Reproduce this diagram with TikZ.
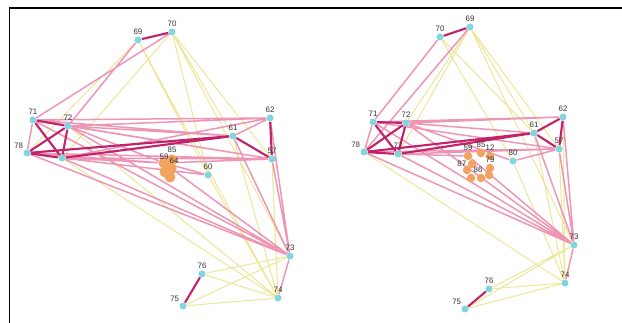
\documentclass[tikz,border=0pt]{standalone}
\usepackage{fontspec}
\setsansfont{Liberation Sans}
\pgfdeclarelayer{bg}
\pgfsetlayers{bg,main}

\definecolor{strongedge}{HTML}{C2226A}
\definecolor{midedge}{HTML}{EE95B5}
\definecolor{weakedge}{HTML}{EDE79C}
\definecolor{vertfill}{HTML}{7FD6DF}
\definecolor{groupfill}{HTML}{F2A35E}

\tikzset{
  vert/.style={circle, fill=vertfill, minimum size=0.14cm, inner sep=0pt},
  grp/.style={circle, fill=groupfill, minimum size=0.17cm, inner sep=0pt},
  blob/.style={circle, fill=groupfill, minimum size=0.22cm, inner sep=0pt},
  tag/.style={font=\fontsize{4.5}{4.5}\selectfont\sffamily, text=black!80, inner sep=0.5pt},
  strong/.style={draw=strongedge, line width=1.2pt},
  medium/.style={draw=midedge, line width=0.85pt},
  weak/.style={draw=weakedge, line width=0.6pt},
}

\begin{document}
\begin{tikzpicture}[x=0.02cm, y=-0.02cm]
  \useasboundingbox (0,0) rectangle (622,323);
  \draw[line width=0.04cm] (9.5,323) -- (9.5,8.5) -- (622,8.5);

  % left graph
  \node (l69) at (138,40) [vert, label={[tag]above:69}] {};
  \node (l70) at (172,32) [vert, label={[tag]above:70}] {};
  \node (l71) at (33,120) [vert, label={[tag]above:71}] {};
  \node (l72) at (68,126) [vert, label={[tag]above:72}] {};
  \node (l78) at (27,153) [vert, label={[tag]above left:78}] {};
  \node (l77) at (62,158) [vert] {};
  \node (l61) at (233,136) [vert, label={[tag]above:61}] {};
  \node (l62) at (270,118) [vert, label={[tag]above:62}] {};
  \node (l57) at (272,159) [vert, label={[tag]above:57}] {};
  \node (l60) at (208,175) [vert, label={[tag]above:60}] {};
  \node (l73) at (290,256) [vert, label={[tag]above:73}] {};
  \node (l76) at (202,274) [vert, label={[tag]above:76}] {};
  \node (l75) at (183,306) [vert, label={[tag]above left:75}] {};
  \node (l74) at (278,298) [vert, label={[tag]above:74}] {};
  \node (l59) at (164,163) [blob] {};
  \node (l85) at (172,160) [blob, label={[tag]above:85}] {};
  \node (l64) at (171,169) [blob] {};
  \node (l84) at (165,172) [blob] {};
  \node (l86) at (170,177) [blob] {};
  \node (l59t) at (164,157) [tag] {59};
  \node (l64t) at (174,161) [tag] {64};

  \begin{pgfonlayer}{bg}
  \draw[weak] (l70) -- (l77) (l70) -- (l61) (l70) -- (l57) (l70) -- (l73)
    (l69) -- (l74) (l69) -- (l60) (l72) -- (l74) (l77) -- (l74) (l60) -- (l74)
    (l61) -- (l74) (l62) -- (l74) (l57) -- (l74) (l73) -- (l75) (l74) -- (l75)
    (l74) -- (l76) (l73) -- (l76) (l69) -- (l78) (l70) -- (l60);
  \draw[medium] (l69) -- (l72) (l70) -- (l71) (l71) -- (l62) (l72) -- (l62)
    (l72) -- (l61) (l71) -- (l61) (l71) -- (l57) (l72) -- (l57) (l77) -- (l57)
    (l78) -- (l57) (l71) -- (l78) (l77) -- (l62) (l78) -- (l59) (l77) -- (l59)
    (l72) -- (l59) (l59) -- (l57) (l59) -- (l60) (l77) -- (l60) (l71) -- (l73)
    (l72) -- (l73) (l78) -- (l73) (l77) -- (l73) (l59) -- (l73) (l61) -- (l73)
    (l62) -- (l73) (l57) -- (l73) (l73) -- (l74) (l61) -- (l62);
  \draw[strong] (l69) -- (l70) (l71) -- (l77) (l72) -- (l78) (l72) -- (l77)
    (l78) -- (l61) (l61) -- (l57) (l62) -- (l57) (l75) -- (l76) (l78) -- (l77)
    (l77) -- (l61) (l71) -- (l72);
  \end{pgfonlayer}

  % right graph
  \node (r70) at (440,37) [vert, label={[tag]above:70}] {};
  \node (r69) at (470,27) [vert, label={[tag]above:69}] {};
  \node (r71) at (373,122) [vert, label={[tag]above:71}] {};
  \node (r72) at (406,123) [vert, label={[tag]above:72}] {};
  \node (r78) at (364,152) [vert, label={[tag]above left:78}] {};
  \node (r77) at (398,154) [vert, label={[tag]above:77}] {};
  \node (r61) at (534,133) [vert, label={[tag]above:61}] {};
  \node (r62) at (563,117) [vert, label={[tag]above:62}] {};
  \node (r57) at (559,149) [vert, label={[tag]above:57}] {};
  \node (r80) at (513,161) [vert, label={[tag]above:80}] {};
  \node (r73) at (574,245) [vert, label={[tag]above:73}] {};
  \node (r74) at (565,283) [vert, label={[tag]above:74}] {};
  \node (r76) at (489,289) [vert, label={[tag]above:76}] {};
  \node (r75) at (465,309) [vert, label={[tag]above left:75}] {};
  \node (r59) at (468,156) [grp, label={[tag]above:59}] {};
  \node (r85) at (481,153) [grp, label={[tag]above:85}] {};
  \node (r12) at (490,156) [grp, label={[tag]above:12}] {};
  \node (r87) at (472,164) [grp, label={[tag]left:87}] {};
  \node (r79) at (490,168) [grp, label={[tag]above:79}] {};
  \node (r86) at (467,170) [grp] {};
  \node (r88) at (471,178) [grp] {};
  \node (r89) at (481,178) [grp] {};
  \node (r90) at (489,175) [grp] {};
  \node (r86t) at (478,170) [tag] {86};

  \begin{pgfonlayer}{bg}
  \draw[weak] (r69) -- (r77) (r69) -- (r61) (r69) -- (r57) (r69) -- (r73)
    (r70) -- (r61) (r70) -- (r80) (r78) -- (r74) (r80) -- (r74) (r61) -- (r74)
    (r62) -- (r74) (r57) -- (r74) (r73) -- (r76) (r74) -- (r76) (r74) -- (r75)
    (r73) -- (r75) (r69) -- (r72);
  \draw[medium] (r70) -- (r71) (r69) -- (r78) (r71) -- (r62) (r72) -- (r62)
    (r72) -- (r61) (r71) -- (r57) (r77) -- (r57) (r78) -- (r57) (r72) -- (r80)
    (r71) -- (r78) (r77) -- (r59) (r71) -- (r73) (r72) -- (r73) (r78) -- (r73)
    (r77) -- (r73) (r59) -- (r73) (r61) -- (r73) (r62) -- (r73) (r57) -- (r73)
    (r73) -- (r74) (r80) -- (r57);
  \draw[strong] (r70) -- (r69) (r71) -- (r77) (r72) -- (r78) (r71) -- (r72)
    (r72) -- (r77) (r78) -- (r77) (r78) -- (r61) (r77) -- (r61) (r61) -- (r62)
    (r61) -- (r57) (r62) -- (r57) (r75) -- (r76);
  \end{pgfonlayer}
\end{tikzpicture}
\end{document}
